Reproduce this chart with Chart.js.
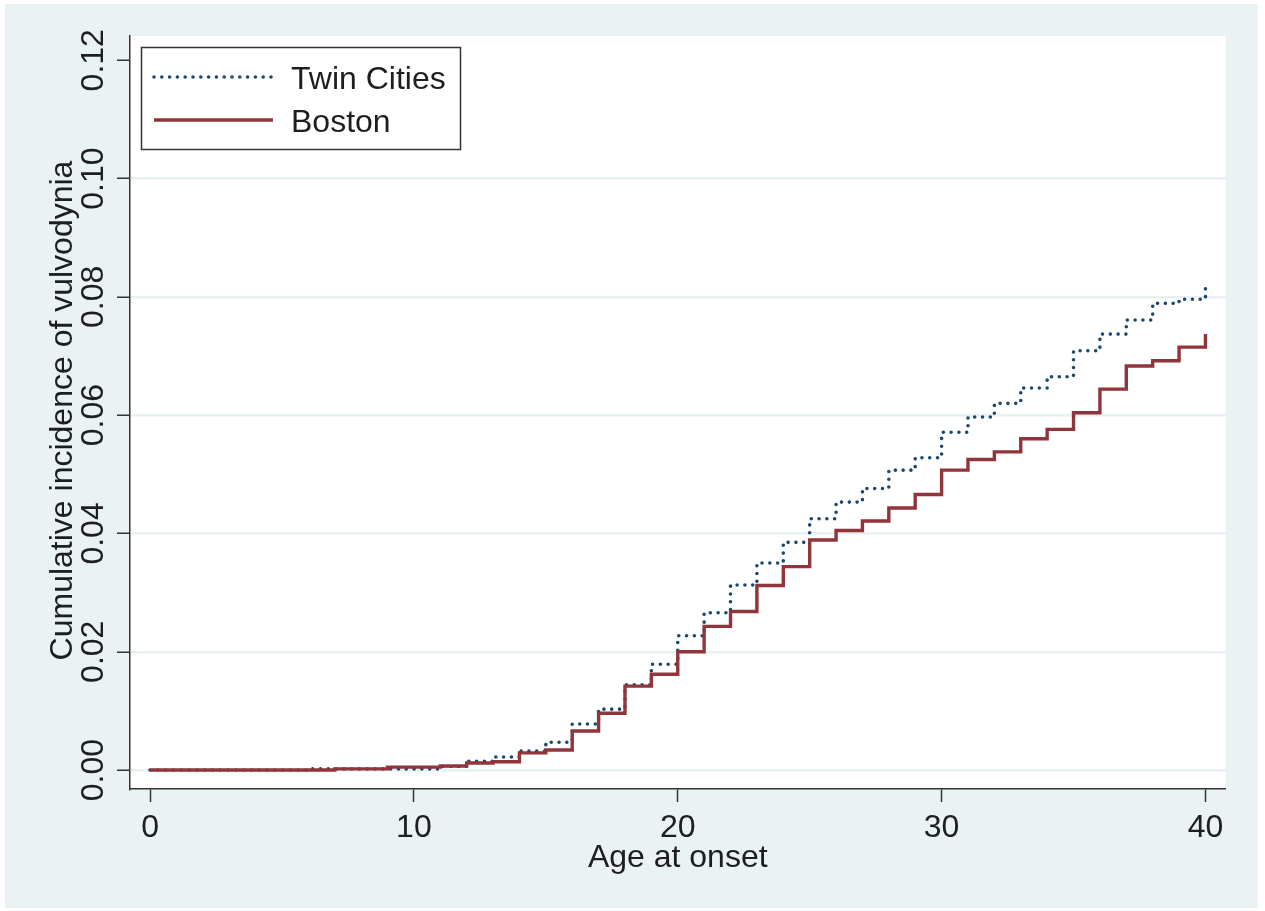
<!DOCTYPE html>
<html>
<head>
<meta charset="utf-8">
<title>Cumulative incidence of vulvodynia</title>
<script src="https://cdn.jsdelivr.net/npm/chart.js@4.4.1/dist/chart.umd.min.js"></script>
<style>
  html, body { margin: 0; padding: 0; background: #fff; }
  #wrap { position: relative; width: 1265px; height: 911px; }
</style>
</head>
<body>
<div id="wrap"><canvas id="chart" width="1265" height="911"></canvas></div>
<script>
// data (value holds from that age until the next)
const ages = [0,1,2,3,4,5,6,7,8,9,10,11,12,13,14,15,16,17,18,19,20,
              21,22,23,24,25,26,27,28,29,30,31,32,33,34,35,36,37,38,39,40];
const twinCities = [0,0,0,0,0,0,0.0002,0.0002,0.0002,0.0002,0.0002,0.0006,0.0015,0.0022,0.0032,0.0047,
                    0.0078,0.0103,0.0144,0.0179,0.0227,0.0266,0.0313,0.0350,0.0385,0.0425,0.0453,
                    0.0476,0.0507,0.0528,0.0571,0.0597,0.0620,0.0646,0.0665,0.0709,0.0737,0.0761,
                    0.0789,0.0796,0.0822];
const boston = [0,0,0,0,0,0,0,0.0002,0.0002,0.0005,0.0005,0.0007,0.0012,0.0014,0.0029,0.0034,
                0.0066,0.0096,0.0142,0.0162,0.0200,0.0243,0.0268,0.0312,0.0344,0.0389,0.0405,
                0.0421,0.0443,0.0466,0.0507,0.0525,0.0538,0.0560,0.0576,0.0604,0.0644,0.0683,
                0.0692,0.0715,0.0737];
const xTicks = [0, 10, 20, 30, 40];
const yTicks = [0, 0.02, 0.04, 0.06, 0.08, 0.10, 0.12];
const xTitle = "Age at onset";
const yTitle = "Cumulative incidence of vulvodynia";

const PANEL = "#eaf2f3";
const GRID  = "#e8f0f2";
const AXIS  = "#333333";
const TEXT  = "#1e1e1e";
const FONT  = "32px 'Liberation Sans', Arial, sans-serif";

const pts = (vals) => ages.map((a, i) => ({ x: a, y: vals[i] }));

// background panel + white plot region
const bgPlugin = {
  id: "bg",
  beforeDraw(chart) {
    const { ctx, chartArea: a } = chart;
    ctx.save();
    ctx.fillStyle = PANEL;
    ctx.fillRect(5, 4, 1253, 904);
    ctx.fillStyle = "#fff";
    ctx.fillRect(a.left, a.top, a.right - a.left, a.bottom - a.top);
    ctx.restore();
  }
};

// tick labels, axis titles and the boxed legend
const textPlugin = {
  id: "texts",
  afterDraw(chart) {
    const { ctx, chartArea: a, scales } = chart;
    ctx.save();
    ctx.font = FONT;
    ctx.fillStyle = TEXT;
    ctx.textBaseline = "alphabetic";

    // x tick labels
    ctx.textAlign = "center";
    xTicks.forEach(v => ctx.fillText(String(v), scales.x.getPixelForValue(v), a.bottom + 48));

    // y tick labels, rotated
    yTicks.forEach(v => {
      ctx.save();
      ctx.translate(a.left - 27, scales.y.getPixelForValue(v));
      ctx.rotate(-Math.PI / 2);
      ctx.fillText(v.toFixed(2), 0, 0);
      ctx.restore();
    });

    // titles
    ctx.fillText(xTitle, (a.left + a.right) / 2, a.bottom + 78);
    ctx.save();
    ctx.translate(a.left - 58, (a.top + a.bottom) / 2 - 2);
    ctx.rotate(-Math.PI / 2);
    ctx.fillText(yTitle, 0, 0);
    ctx.restore();

    // legend
    const lx = a.left + 11.5, ly = a.top + 11.5;
    ctx.fillStyle = "#fff";
    ctx.fillRect(lx, ly, 319, 102);
    ctx.strokeStyle = AXIS;
    ctx.lineWidth = 1.5;
    ctx.strokeRect(lx, ly, 319, 102);
    const order = [0, 1];
    order.forEach((di, row) => {
      const ds = chart.data.datasets[di];
      const y = a.top + 41 + row * 43;
      ctx.save();
      ctx.strokeStyle = ds.borderColor;
      ctx.lineWidth = ds.borderWidth;
      ctx.lineCap = ds.borderCapStyle || "butt";
      ctx.setLineDash(ds.borderDash || []);
      ctx.beginPath();
      ctx.moveTo(a.left + 24, y);
      ctx.lineTo(a.left + 143, y);
      ctx.stroke();
      ctx.restore();
      ctx.fillStyle = TEXT;
      ctx.textAlign = "left";
      ctx.fillText(ds.label, a.left + 161, y + 11.5);
    });
    ctx.restore();
  }
};

new Chart(document.getElementById("chart"), {
  type: "line",
  data: {
    datasets: [
      { label: "Twin Cities", data: pts(twinCities), stepped: "before",
        borderColor: "#1a476f", borderWidth: 3.6, borderDash: [0, 7.8], borderCapStyle: "round",
        pointRadius: 0, fill: false, order: 1 },
      { label: "Boston", data: pts(boston), stepped: "before",
        borderColor: "#90353b", borderWidth: 3.4,
        pointRadius: 0, fill: false, order: 0 }
    ]
  },
  options: {
    responsive: false,
    animation: false,
    events: [],
    layout: { padding: { left: 0, top: 36, right: 39.5, bottom: 0 } },
    plugins: { legend: { display: false }, tooltip: { enabled: false } },
    scales: {
      x: {
        type: "linear", min: -0.76, max: 40.76,
        afterBuildTicks: (s) => { s.ticks = xTicks.map(v => ({ value: v })); },
        afterFit: (s) => { s.height = 122; },
        ticks: { display: false },
        grid: { drawOnChartArea: false, drawTicks: true, tickLength: 13, tickColor: AXIS, tickWidth: 1.5 },
        border: { display: true, color: AXIS, width: 1.5 }
      },
      y: {
        type: "linear", min: -0.0032, max: 0.1241,
        afterBuildTicks: (s) => { s.ticks = yTicks.map(v => ({ value: v })); },
        afterFit: (s) => { s.width = 130; },
        ticks: { display: false },
        grid: {
          color: (c) => (c.tick && c.tick.value >= 0.119 ? "rgba(0,0,0,0)" : GRID),
          lineWidth: 2.5, drawTicks: true, tickLength: 13, tickColor: AXIS, tickWidth: 1.5
        },
        border: { display: true, color: AXIS, width: 1.5 }
      }
    }
  },
  plugins: [bgPlugin, textPlugin]
});
</script>
</body>
</html>
